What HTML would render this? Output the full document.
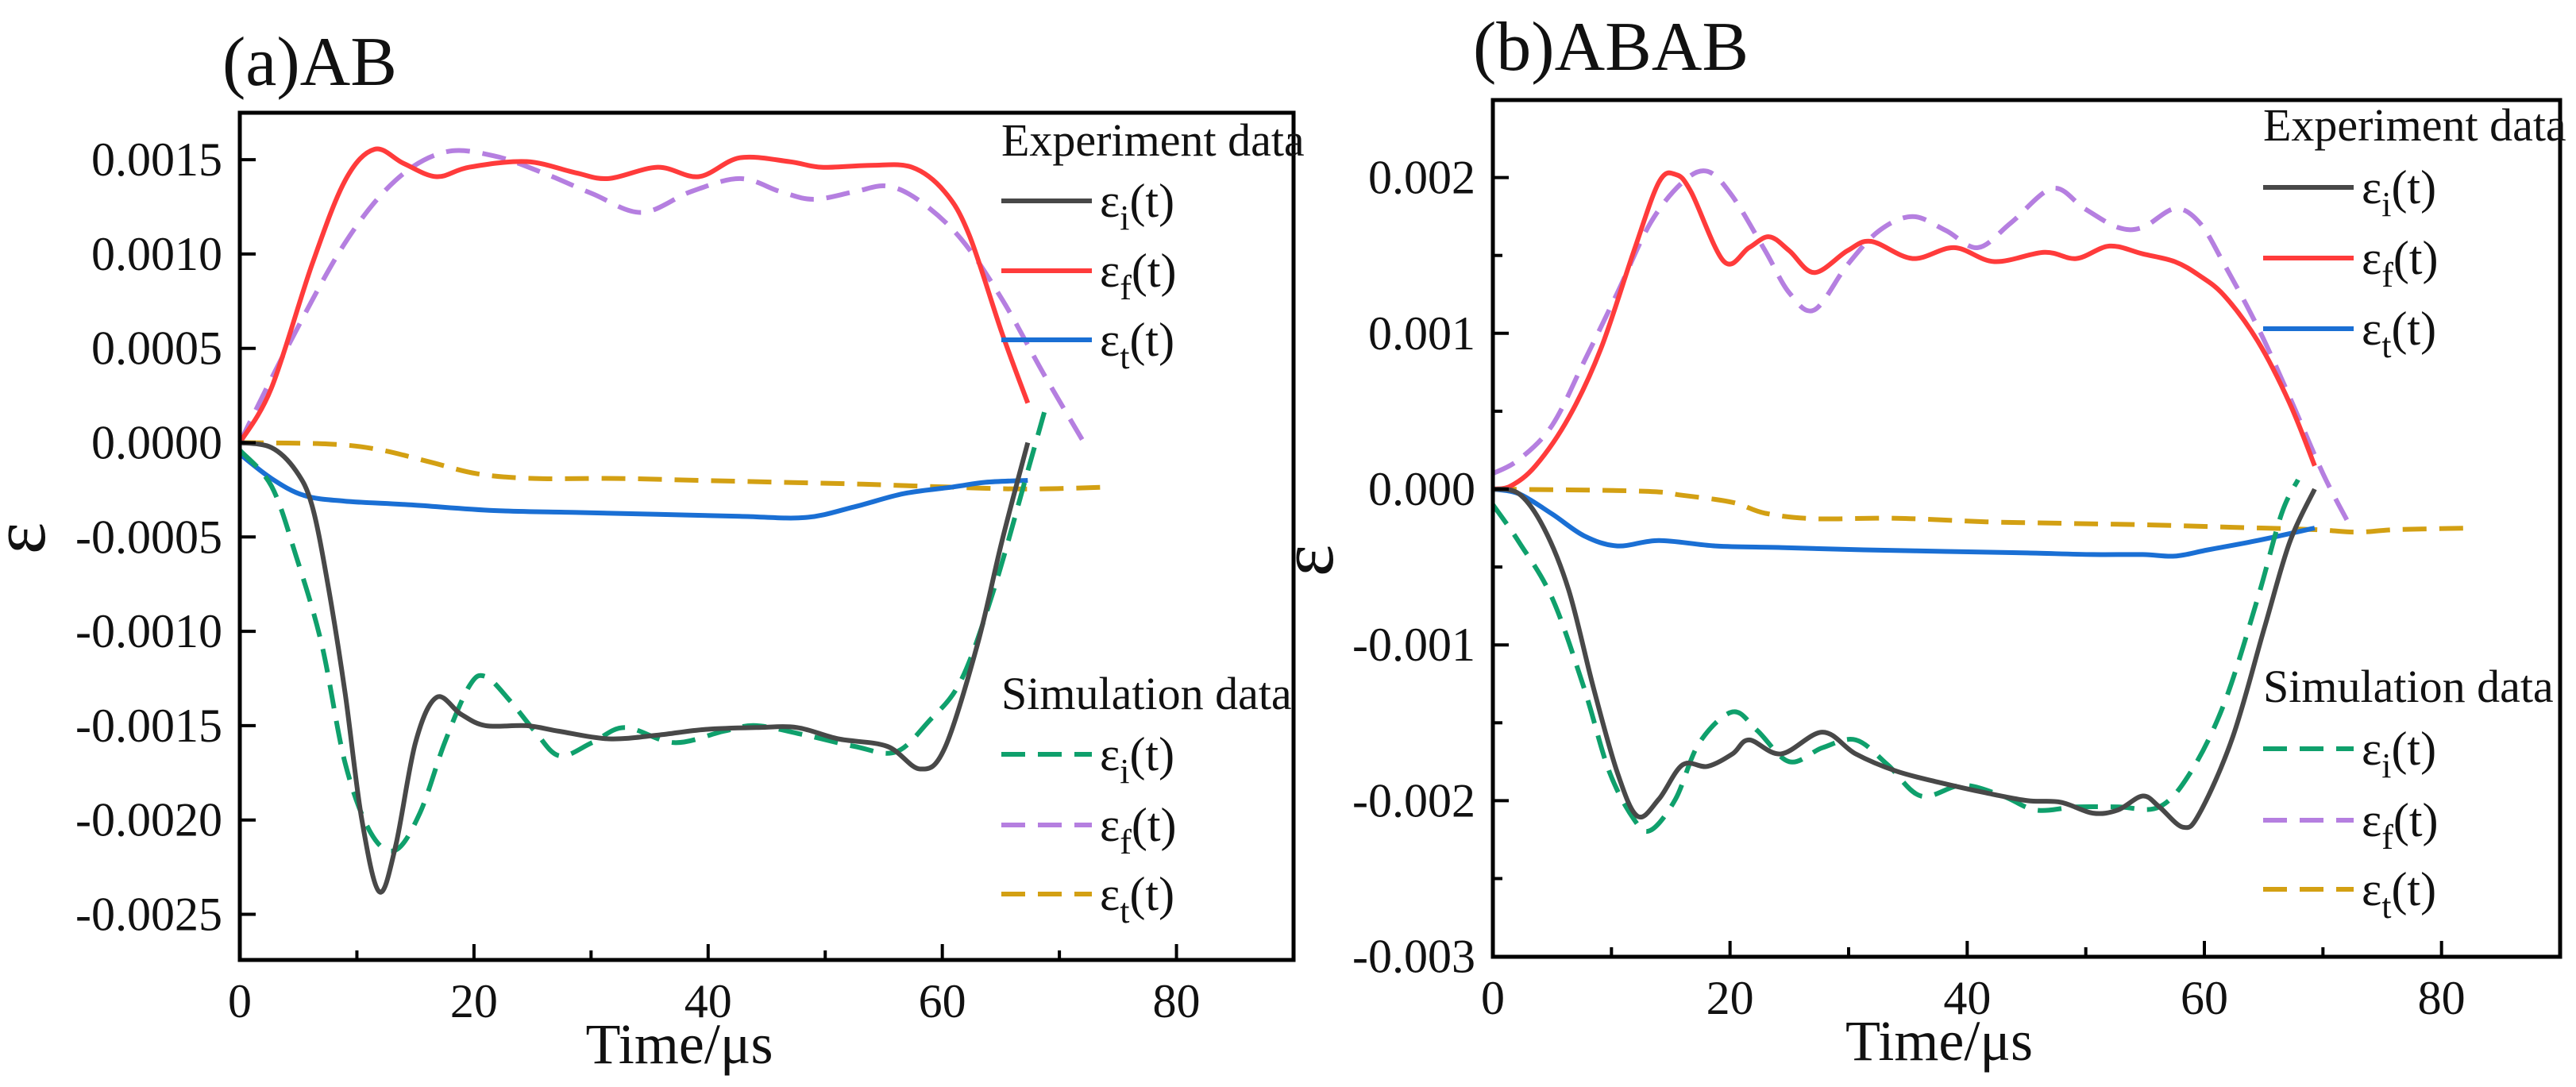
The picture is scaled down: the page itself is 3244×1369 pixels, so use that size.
<!DOCTYPE html>
<html><head><meta charset="utf-8">
<style>
html,body{margin:0;padding:0;background:#fff;}
svg{display:block;}
text{font-family:"Liberation Serif",serif;fill:#111;}
</style></head>
<body>
<svg id="chart" width="3244" height="1369" viewBox="0 0 3244 1369" xmlns="http://www.w3.org/2000/svg"></svg>
<script>
// ---------- Panel (a) AB data (strain in 1e-4) ----------
const aExpI_x=[0,2.7,4.8,6.2,7.6,9.0,10.4,11.9,13.3,15,16.8,18.9,21,24.5,27.3,31.5,35.7,39.7,44.1,47.6,51.1,55.3,58.1,60.2,63,65.1,67.3];
const aExpI_y=[0,-0.26,-1.5,-3.4,-7.8,-13.3,-19.9,-23.8,-21.4,-15.9,-13.5,-14.4,-15,-15,-15.3,-15.7,-15.5,-15.2,-15.1,-15.1,-15.7,-16.1,-17.3,-16.2,-10.7,-5.2,0];
const aExpF_x=[0,2.7,6.2,9.0,11.5,14,16.8,19.6,24.5,28.7,31.5,35.7,39.2,42.7,46.9,49.7,53.9,57.4,60.2,62.3,65.1,67.3];
const aExpF_y=[0,2.9,9.5,13.9,15.55,14.8,14.1,14.6,14.9,14.3,14.0,14.6,14.1,15.1,14.9,14.6,14.7,14.6,13.3,11.0,5.8,2.1];
const aExpT_x=[0,2.7,5.5,9,14.7,21.7,28.7,35.7,42.7,48.3,52.5,56.7,60.9,63.7,67.3];
const aExpT_y=[-0.6,-1.9,-2.8,-3.1,-3.3,-3.6,-3.7,-3.8,-3.9,-3.97,-3.4,-2.7,-2.35,-2.1,-2.0];
const aSimI_x=[0,2.7,4.8,7,9,11.2,13.3,15.4,17.5,19.6,21,23.1,25.2,27.3,30.1,32.9,37.1,41.3,44.1,48.3,52.5,56,58.8,61.6,64.4,67.3,68.8];
const aSimI_y=[-0.4,-2.3,-6,-10.7,-17,-20.7,-21.6,-19.6,-15.9,-12.9,-12.4,-13.7,-15.3,-16.6,-15.9,-15.1,-15.9,-15.3,-15.0,-15.5,-16.1,-16.4,-14.8,-12.6,-7.8,-1.5,1.8];
const aSimF_x=[0,4.1,9,13.3,17.5,21.7,25.9,30.1,34.3,38.5,42.7,46.2,49,52.5,55.3,58.1,61.6,65.1,68.7,72.2];
const aSimF_y=[0,5.1,10.6,13.9,15.4,15.2,14.3,13.2,12.2,13.3,14.0,13.3,12.9,13.3,13.6,12.8,10.8,7.6,3.6,-0.1];
const aSimT_x=[0,7.6,11.9,16.1,20.3,25.2,32.2,39.2,46.2,53.2,60.2,67.3,74.3];
const aSimT_y=[0,-0.07,-0.37,-1.0,-1.65,-1.9,-1.9,-2.0,-2.1,-2.2,-2.35,-2.46,-2.35];
const aYTicks=[0.0015,0.0010,0.0005,0,-0.0005,-0.0010,-0.0015,-0.0020,-0.0025];
const aYLabels=["0.0015","0.0010","0.0005","0.0000","-0.0005","-0.0010","-0.0015","-0.0020","-0.0025"];
// ---------- Panel (b) ABAB data (strain in 1e-4) ----------
const bExpI_x=[0,2.2,4.3,6.4,8.5,10.5,12.2,14,16,18.1,20.2,21.6,24.3,27.8,30.6,34,37.5,41.6,45.1,47.9,50.6,52.7,54.8,56.2,58.2,59.6,62.4,65.1,67.2,69.3];
const bExpI_y=[0,-0.3,-2.5,-6.5,-12.8,-18.2,-21.0,-19.9,-17.7,-17.8,-17.0,-16.1,-17.0,-15.6,-17.0,-18.1,-18.8,-19.5,-20,-20.1,-20.8,-20.6,-19.7,-20.4,-21.7,-20.8,-15.9,-8.8,-3.4,0];
const bExpF_x=[0,1.5,3.6,6.4,9.1,11.9,14,15.4,16.7,19.5,21.6,23.3,25,27.1,29.9,31.9,35.4,38.9,42.3,46.5,49.2,52,54.8,57.5,59.6,61.7,64.5,67.2,69.3];
const bExpF_y=[0,0.2,1.5,4.6,9.0,15.3,19.7,20.2,19.1,14.6,15.5,16.2,15.3,13.9,15.3,15.9,14.8,15.5,14.6,15.2,14.8,15.6,15.1,14.6,13.7,12.4,9.5,5.5,1.5];
const bExpT_x=[0,2.2,5,7.7,10.5,14,18.8,24.3,31.3,38.2,45.1,50.6,54.8,57.5,60.3,64.5,69.3];
const bExpT_y=[0,-0.3,-1.6,-3.0,-3.65,-3.3,-3.65,-3.75,-3.9,-4.0,-4.1,-4.2,-4.2,-4.3,-3.9,-3.3,-2.5];
const bSimI_x=[0,2.2,5,7.7,9.8,11.9,13.3,15.4,17.4,20.2,22.3,25,27.8,30.6,33.3,36.1,39.6,43,45.8,49.2,52.7,56.2,58.9,61.7,64.5,66.5,67.9];
const bSimI_y=[-1.0,-3.4,-7,-12.8,-18.1,-21.2,-21.9,-19.9,-16.3,-14.3,-15.5,-17.5,-16.6,-16.1,-17.7,-19.7,-19.0,-19.7,-20.6,-20.4,-20.4,-20.4,-18.1,-13.7,-7.0,-1.6,0.6];
const bSimF_x=[0,2.2,5,7.7,10.5,13.3,16,18.1,20.2,22.96,25,27.1,29.9,32.6,35.4,38.2,40.9,43.7,47.2,49.9,52.7,54.8,57.5,59.6,61.7,64.5,67.2,70,72.1];
const bSimF_y=[1.0,1.9,4.1,8.2,12.6,17.1,19.7,20.4,18.8,15.3,12.6,11.5,14.4,16.6,17.5,16.6,15.5,17.1,19.3,18.0,16.8,16.8,18.0,17.1,14.4,10.4,5.9,1.0,-2.1];
const bSimT_x=[0,12.6,16,20.2,22.96,27.1,34,41.6,48.5,55.5,62.4,69.3,72.8,76.2,82.4];
const bSimT_y=[0,-0.13,-0.4,-0.85,-1.55,-1.9,-1.87,-2.1,-2.2,-2.3,-2.45,-2.6,-2.76,-2.6,-2.5];
const bYTicks=[0.002,0.001,0,-0.001,-0.002,-0.003];
const bYLabels=["0.002","0.001","0.000","-0.001","-0.002","-0.003"];
const xTicks=[0,20,40,60,80];
const xTickLabels=["0","20","40","60","80"];

const NS="http://www.w3.org/2000/svg";
const svg=document.getElementById('chart');
function mk(tag,attrs,parent){const e=document.createElementNS(NS,tag);for(const k in attrs)e.setAttribute(k,attrs[k]);(parent||svg).appendChild(e);return e;}
function smoothPath(pts){
  let d="M"+pts[0][0].toFixed(1)+","+pts[0][1].toFixed(1);
  for(let i=0;i<pts.length-1;i++){
    const p0=pts[Math.max(0,i-1)],p1=pts[i],p2=pts[i+1],p3=pts[Math.min(pts.length-1,i+2)];
    const c1x=p1[0]+(p2[0]-p0[0])/6,c1y=p1[1]+(p2[1]-p0[1])/6;
    const c2x=p2[0]-(p3[0]-p1[0])/6,c2y=p2[1]-(p3[1]-p1[1])/6;
    d+=" C"+c1x.toFixed(1)+","+c1y.toFixed(1)+" "+c2x.toFixed(1)+","+c2y.toFixed(1)+" "+p2[0].toFixed(1)+","+p2[1].toFixed(1);
  }
  return d;
}
const COL={gray:"#484848",red:"#ff3b3b",blue:"#1a6fd4",green:"#0fa06c",purple:"#b57fe0",gold:"#d3a013"};

function panel(p){
  const g=mk('g',{});
  
  
  const X=v=>p.L+(v-0)*(p.R-p.L)/90;
  const Y=v=>p.y0+(-v)*p.ppu;
  const t=mk('text',{x:p.titleX,y:p.titleY,'font-size':88},g);t.textContent=p.title;
  
  const series=[
    [p.simT_x,p.simT_y,COL.gold,true,'sim-eps-t-line'],
    [p.expT_x,p.expT_y,COL.blue,false,'exp-eps-t-line'],
    [p.simF_x,p.simF_y,COL.purple,true,'sim-eps-f-line'],
    [p.expF_x,p.expF_y,COL.red,false,'exp-eps-f-line'],
    [p.simI_x,p.simI_y,COL.green,true,'sim-eps-i-line'],
    [p.expI_x,p.expI_y,COL.gray,false,'exp-eps-i-line']];
  series.forEach(s=>{
    const pts=s[0].map((x,i)=>[X(x),Y(s[1][i]*1e-4)]);
    const a={d:smoothPath(pts),fill:'none',stroke:s[2],'stroke-width':6,'stroke-linejoin':'round'};
    if(s[3])a['stroke-dasharray']='30 16';
    const e=mk('path',a,g);
    
    
  });
  const fr=mk('rect',{x:p.L,y:p.T,width:p.R-p.L,height:p.B-p.T,fill:'none',stroke:'#000','stroke-width':5},g);
  
  for(let v=10;v<=80;v+=10){
    const major=v%20===0;
    mk('line',{x1:X(v),x2:X(v),y1:p.B,y2:p.B-(major?20:12),stroke:'#000','stroke-width':4},g);
  }
  xTicks.forEach((v,i)=>{
    const e=mk('text',{x:X(v),y:p.B+72,'font-size':60,'text-anchor':'middle'},g);e.textContent=xTickLabels[i];
    
  });
  p.yTicks.forEach((v,i)=>{
    mk('line',{x1:p.L,x2:p.L+20,y1:Y(v),y2:Y(v),stroke:'#000','stroke-width':4},g);
    const e=mk('text',{x:p.L-22,y:Y(v)+20,'font-size':60,'text-anchor':'end'},g);e.textContent=p.yLabels[i];
    
    if(p.minorY && i<p.yTicks.length-1){
      const m=(v+p.yTicks[i+1])/2;
      mk('line',{x1:p.L,x2:p.L+12,y1:Y(m),y2:Y(m),stroke:'#000','stroke-width':4},g);
    }
  });
  const xt=mk('text',{x:(p.L+p.R)/2-110,y:p.B+130,'font-size':72,'text-anchor':'middle'},g);xt.textContent='Time/μs';
  
  const yt=mk('text',{x:0,y:0,'font-size':96,'text-anchor':'middle',transform:`translate(${p.yTitleX},${p.yTitleY}) rotate(-90)`},g);yt.textContent='ε';
  
  function legendBlock(head,y0,ys,cols,dashed,nm){
    const lg=mk('g',{},g);
    
    const h=mk('text',{x:p.legX,y:y0,'font-size':58},lg);h.textContent=head;
    const subs=['i','f','t'];
    ys.forEach((yy,i)=>{
      const a={x1:p.legX,x2:p.legX+114,y1:yy,y2:yy,stroke:cols[i],'stroke-width':6};
      if(dashed)a['stroke-dasharray']='30 16';
      mk('line',a,lg);
      const tx=mk('text',{x:p.legX+124,y:yy+20,'font-size':60},lg);
      
      const s1=mk('tspan',{},tx);s1.textContent='ε';
      const s2=mk('tspan',{dy:16,'font-size':44},tx);s2.textContent=subs[i];
      const s3=mk('tspan',{dy:-16},tx);s3.textContent='(t)';
    });
  }
  legendBlock('Experiment data',p.expHeadY,p.expYs,[COL.gray,COL.red,COL.blue],false,'experiment-legend');
  legendBlock('Simulation data',p.simHeadY,p.simYs,[COL.green,COL.purple,COL.gold],true,'simulation-legend');
}

panel({name:'panel-a-ab',title:'(a)AB',titleX:280,titleY:107,L:302,R:1629,T:142,B:1209,y0:557.5,ppu:118.8/0.0005,
  yTicks:aYTicks,yLabels:aYLabels,minorY:false,yTitleX:56,yTitleY:678,legX:1261,expHeadY:196,expYs:[253,341,428],simHeadY:893,simYs:[950,1039,1126],
  expI_x:aExpI_x,expI_y:aExpI_y,expF_x:aExpF_x,expF_y:aExpF_y,expT_x:aExpT_x,expT_y:aExpT_y,
  simI_x:aSimI_x,simI_y:aSimI_y,simF_x:aSimF_x,simF_y:aSimF_y,simT_x:aSimT_x,simT_y:aSimT_y});
panel({name:'panel-b-abab',title:'(b)ABAB',titleX:1855,titleY:88,L:1880,R:3224,T:126,B:1205,y0:616,ppu:196.2/0.001,
  yTicks:bYTicks,yLabels:bYLabels,minorY:true,yTitleX:1678,yTitleY:706,legX:2850,expHeadY:177,expYs:[236,325,414],simHeadY:884,simYs:[943,1033,1120],
  expI_x:bExpI_x,expI_y:bExpI_y,expF_x:bExpF_x,expF_y:bExpF_y,expT_x:bExpT_x,expT_y:bExpT_y,
  simI_x:bSimI_x,simI_y:bSimI_y,simF_x:bSimF_x,simF_y:bSimF_y,simT_x:bSimT_x,simT_y:bSimT_y});
</script>
</body></html>
